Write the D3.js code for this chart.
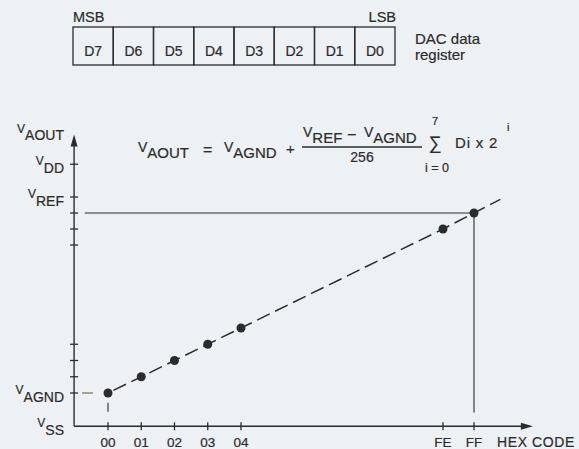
<!DOCTYPE html>
<html><head><meta charset="utf-8">
<script src="https://cdn.jsdelivr.net/npm/d3@7"></script>
<style>
html,body{margin:0;padding:0;background:#eef1f3;}
svg{display:block;font-family:"Liberation Sans",Arial,sans-serif;}
svg text{stroke:#2b2b2b;stroke-width:0.2px;}
</style></head>
<body>
<svg id="c" width="579" height="449"></svg>
<script>
// ---- data ----
const registerBits = ["D7","D6","D5","D4","D3","D2","D1","D0"];
const hexCodes = ["00","01","02","03","04","FE","FF"];
const codeValues = [0,1,2,3,4,254,255];          // digital input value
const outputLevels = [0,1,2,3,4,254,255];        // output in LSB steps above VAGND
const yLevelNames = ["VSS","VAGND","VREF","VDD"];
const yLevelValues = [-2.05,0,256,258.05];
const yMinorTicks = [1,2,3,253,254,255];

const ink = "#2b2b2b";
const svg = d3.select("#c");

// piecewise (broken) scales
const x = d3.scaleLinear().domain([0,4,254,255]).range([108,241,443,474]);
const y = d3.scaleLinear().domain([0,4,253,256]).range([393,328,245,197]);

// ---- register box ----
const reg = d3.scaleBand().domain(registerBits).range([73,395]);
const g0 = svg.append("g");
g0.selectAll("rect").data(registerBits).join("rect")
  .attr("x",d=>reg(d)).attr("y",27).attr("width",reg.bandwidth()).attr("height",38)
  .attr("fill","none").attr("stroke",ink).attr("stroke-width",1.3);
g0.selectAll("text.bit").data(registerBits).join("text").attr("class","bit")
  .attr("x",d=>reg(d)+reg.bandwidth()/2).attr("y",56).attr("text-anchor","middle")
  .attr("font-size",14).attr("fill",ink).text(d=>d);
g0.append("text").attr("x",73).attr("y",22).attr("font-size",14.5).attr("fill",ink).text("MSB");
g0.append("text").attr("x",396).attr("y",22).attr("text-anchor","end").attr("font-size",14.5).attr("fill",ink).text("LSB");
g0.append("text").attr("x",415).attr("y",44).attr("font-size",15).attr("fill",ink).text("DAC data");
g0.append("text").attr("x",415).attr("y",60).attr("font-size",15).attr("fill",ink).text("register");

// ---- axes ----
const xMin = -1.02, xMax = 256.9, yTop = 259.9, ySS = -2.05;
const ax = svg.append("g").attr("stroke",ink).attr("fill","none");
ax.append("line").attr("x1",x(xMin)).attr("x2",x(xMax)-6).attr("y1",y(ySS)).attr("y2",y(ySS)).attr("stroke-width",1.4);
ax.append("line").attr("x1",x(xMin)).attr("x2",x(xMin)).attr("y1",y(ySS)).attr("y2",y(yTop)+6).attr("stroke-width",1.4);
svg.append("path").attr("fill",ink).attr("d",`M${x(xMax)},${y(ySS)} l-12,-3.5 l0,7 z`);
svg.append("path").attr("fill",ink).attr("d",`M${x(xMin)},${y(yTop)} l-3.5,12 l7,0 z`);

// y ticks (cross ticks)
const yTicks = [0,...yMinorTicks,256,258.05];
ax.selectAll("line.yt").data(yTicks).join("line").attr("class","yt")
  .attr("x1",x(xMin)-4).attr("x2",x(xMin)+4).attr("y1",d=>y(d)).attr("y2",d=>y(d)).attr("stroke-width",1.3);
// x ticks
ax.selectAll("line.xt").data(codeValues).join("line").attr("class","xt")
  .attr("x1",d=>x(d)).attr("x2",d=>x(d)).attr("y1",y(ySS)-4).attr("y2",y(ySS)+4).attr("stroke-width",1.3);
svg.selectAll("text.xl").data(hexCodes).join("text").attr("class","xl")
  .attr("x",(d,i)=>x(codeValues[i])).attr("y",447).attr("text-anchor","middle")
  .attr("font-size",13.5).attr("fill",ink).text(d=>d);
svg.append("text").attr("x",497).attr("y",447).attr("font-size",14).attr("letter-spacing",0.6)
  .attr("fill",ink).text("HEX CODE");

// axis labels with subscripts
function axLabel(yy, main, sub){
  const t = svg.append("text").attr("x",64).attr("y",yy+1).attr("text-anchor","end").attr("fill",ink);
  t.append("tspan").attr("font-size",12).text(main);
  t.append("tspan").attr("dy",7.5).attr("font-size",14).text(sub);
}
yLevelNames.forEach((n,i)=> axLabel(y(yLevelValues[i]), n[0], n.slice(1)));
axLabel(y(yTop)-3, "V", "AOUT");

// ---- guide lines ----
svg.append("line").attr("x1",x(-0.7)).attr("x2",x(255)).attr("y1",y(255)).attr("y2",y(255))
  .attr("stroke",ink).attr("stroke-width",1.2);
svg.append("line").attr("x1",x(255)).attr("x2",x(255)).attr("y1",y(255)).attr("y2",y(-1.2))
  .attr("stroke",ink).attr("stroke-width",1.1);
svg.append("line").attr("x1",x(0)).attr("x2",x(0)).attr("y1",y(-0.6)).attr("y2",y(-1.15))
  .attr("stroke",ink).attr("stroke-width",1.1);
svg.append("line").attr("x1",x(-0.78)).attr("x2",x(-0.45)).attr("y1",y(0)).attr("y2",y(0))
  .attr("stroke","#6f6f55").attr("stroke-width",1.2);

// ---- transfer line ----
const lineData = codeValues.map((c,i)=>[c,outputLevels[i]]);
const ext = [255.85, 255.85];
svg.append("path").datum([...lineData, ext])
  .attr("d",d3.line().x(d=>x(d[0])).y(d=>y(d[1])))
  .attr("fill","none").attr("stroke",ink).attr("stroke-width",1.5)
  .attr("stroke-dasharray","14,6").attr("stroke-dashoffset",-6);
svg.selectAll("circle").data(lineData).join("circle")
  .attr("cx",d=>x(d[0])).attr("cy",d=>y(d[1])).attr("r",4.5).attr("fill",ink);

// ---- formula ----
const f = svg.append("g").attr("fill",ink);
function part(xx, yy, main, sub){
  const t = f.append("text").attr("x",xx).attr("y",yy);
  t.append("tspan").attr("font-size",14).text(main);
  if(sub) t.append("tspan").attr("dy",6).attr("font-size",15).text(sub);
  return t;
}
part(138,152,"V","AOUT");
f.append("text").attr("x",203).attr("y",155).attr("font-size",16).text("=");
part(224,152,"V","AGND");
f.append("text").attr("x",286).attr("y",154).attr("font-size",15).text("+");
part(303,137,"V","REF");
f.append("text").attr("x",347).attr("y",140).attr("font-size",16).text("−");
part(364,137,"V","AGND");
f.append("line").attr("x1",302).attr("x2",422).attr("y1",147).attr("y2",147).attr("stroke",ink).attr("stroke-width",1.3);
f.append("text").attr("x",362).attr("y",162).attr("text-anchor","middle").attr("font-size",14).text("256");
f.append("text").attr("x",435).attr("y",149).attr("text-anchor","middle").attr("font-size",18).text("∑");
f.append("text").attr("x",435).attr("y",125).attr("text-anchor","middle").attr("font-size",11).text("7");
f.append("text").attr("x",437).attr("y",172).attr("text-anchor","middle").attr("font-size",12.5).text("i = 0");
f.append("text").attr("x",455).attr("y",148).attr("font-size",15).attr("letter-spacing",0.8).text("Di x 2");
f.append("text").attr("x",507).attr("y",131).attr("font-size",11).text("i");
</script>
</body></html>
